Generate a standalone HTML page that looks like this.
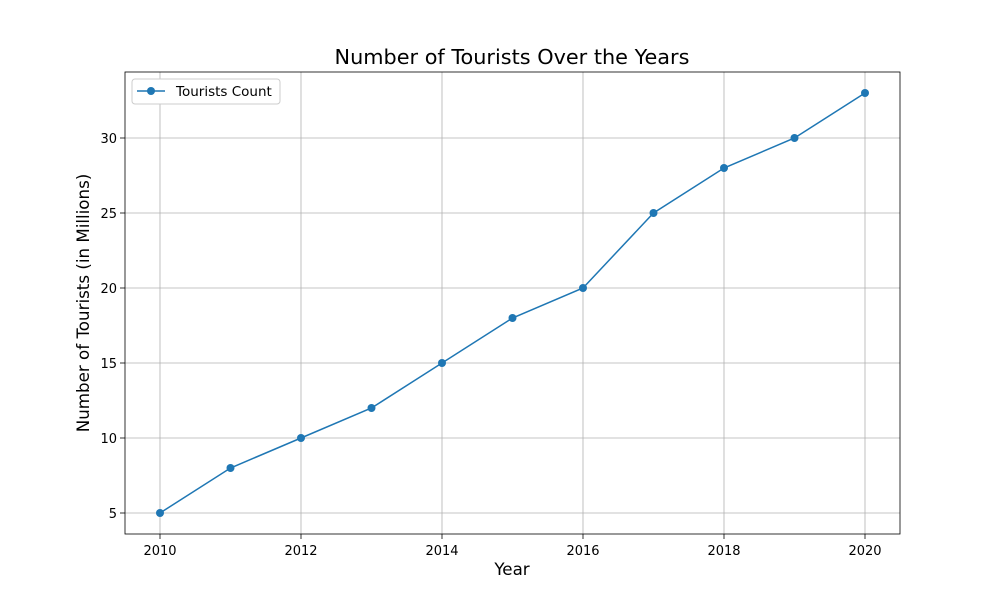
<!DOCTYPE html>
<html><head><meta charset="utf-8"><style>
body{margin:0;background:#fff;}
svg{display:block;font-family:"DejaVu Sans","Liberation Sans",sans-serif;}
</style></head><body>
<svg id="chart" width="1000" height="600">
<rect x="0" y="0" width="1000" height="600" fill="#fff"/>
<g id="grid"></g>
<g id="axes"></g>
<g id="series"></g>
<text x="512" y="64" font-size="20.8" text-anchor="middle">Number of Tourists Over the Years</text>
<text x="512" y="575" font-size="16.7" text-anchor="middle">Year</text>
<text transform="translate(89,303) rotate(-90)" font-size="16.7" text-anchor="middle">Number of Tourists (in Millions)</text>
<g>
<rect x="132" y="79" width="148" height="25" fill="#fff" stroke="#ccc" rx="3"/>
<line x1="137" y1="91" x2="165" y2="91" stroke="#1f77b4" stroke-width="1.5"/>
<circle cx="151" cy="91" r="4" fill="#1f77b4"/>
<text x="176" y="96" font-size="13.5">Tourists Count</text>
</g>
</svg>
<script>
const years=[2010,2011,2012,2013,2014,2015,2016,2017,2018,2019,2020];
const tourists=[5,8,10,12,15,18,20,25,28,30,33];
const xTicks=[2010,2012,2014,2016,2018,2020];
const yTicks=[5,10,15,20,25,30];
const L=125,R=900,T=72,B=534;
function xs(v){return 160+(v-2010)*70.5;}
function ys(v){return 513-(v-5)*15;}
const NS="http://www.w3.org/2000/svg";
function mk(p,tag,a){const e=document.createElementNS(NS,tag);for(const k in a)e.setAttribute(k,a[k]);p.appendChild(e);return e;}
const grid=document.getElementById('grid'),axes=document.getElementById('axes'),ser=document.getElementById('series');
xTicks.forEach(t=>{const x=xs(t);
const g=mk(grid,'line',{x1:x,x2:x,y1:T,y2:B,stroke:'#b0b0b0','stroke-width':0.8});


mk(axes,'line',{x1:x,x2:x,y1:B,y2:B+5,stroke:'#000','stroke-width':0.8});
const tx=mk(axes,'text',{x:x,y:B+21,'font-size':13,'text-anchor':'middle'});tx.textContent=t;

});
yTicks.forEach(t=>{const y=ys(t);
const g=mk(grid,'line',{x1:L,x2:R,y1:y,y2:y,stroke:'#b0b0b0','stroke-width':0.8});


mk(axes,'line',{x1:L-5,x2:L,y1:y,y2:y,stroke:'#000','stroke-width':0.8});
const tx=mk(axes,'text',{x:L-8,y:y+5,'font-size':13,'text-anchor':'end'});tx.textContent=t;

});
const frame=mk(axes,'rect',{x:L,y:T,width:R-L,height:B-T,fill:'none',stroke:'#000','stroke-width':0.8});


const line=mk(ser,'polyline',{points:years.map((y,i)=>xs(y)+','+ys(tourists[i])).join(' '),fill:'none',stroke:'#1f77b4','stroke-width':1.5});


years.forEach((y,i)=>{const c=mk(ser,'circle',{cx:xs(y),cy:ys(tourists[i]),r:4,fill:'#1f77b4'});

});
</script>
</body></html>
